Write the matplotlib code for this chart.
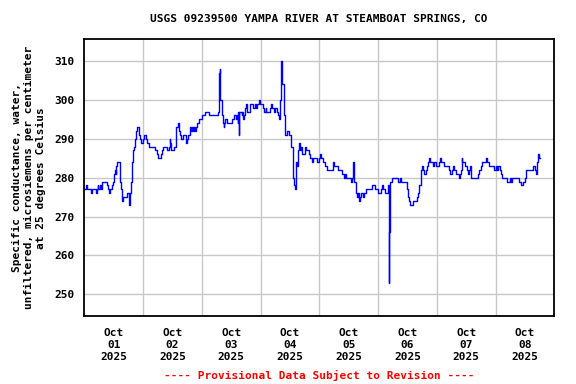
import matplotlib
matplotlib.use("Agg")
from matplotlib import pyplot as plt

# hours since Oct 01 2025 00:00, and specific conductance (uS/cm)
hours = [0.0, 0.7, 1.2, 2.7, 3.1, 4.6, 5.0, 5.4, 5.8, 6.4, 6.8, 7.2, 9.1, 9.6, 10.2, 10.7,
         11.3, 11.6, 12.0, 12.4, 12.8, 13.0, 13.5, 14.4, 14.8, 15.2, 15.6, 16.0, 17.3, 18.1,
         18.3, 18.6, 18.9, 19.3, 19.7, 20.2, 20.7, 21.1, 21.6, 22.2, 22.7, 23.0, 23.8, 24.2,
         25.4, 25.8, 26.4, 28.7, 29.5, 30.0, 31.3, 31.8, 32.2, 33.8, 34.5, 34.9, 35.2, 35.6,
         36.6, 37.5, 37.6, 38.2, 38.7, 39.1, 39.5, 40.5, 41.7, 42.1, 42.5, 43.1, 43.5, 43.9,
         44.4, 44.8, 45.3, 45.8, 46.2, 47.0, 48.0, 49.3, 51.0, 54.5, 54.9, 55.0, 55.4, 55.6,
         56.1, 56.5, 56.9, 57.2, 57.6, 58.4, 60.3, 61.2, 62.1, 62.5, 62.8, 62.9, 63.2, 63.3,
         64.3, 64.6, 64.8, 65.2, 65.6, 66.2, 66.6, 67.7, 68.9, 69.6, 70.0, 70.4, 71.2, 71.6,
         73.0, 73.3, 74.1, 74.3, 75.7, 76.2, 76.6, 77.3, 77.7, 78.7, 79.1, 79.5, 79.9, 80.2,
         80.5, 80.7, 81.4, 81.7, 82.1, 83.0, 83.8, 84.3, 84.5, 85.2, 85.6, 86.0, 86.3, 86.6,
         86.8, 87.2, 87.5, 87.8, 88.1, 88.5, 88.9, 90.0, 90.5, 91.7, 92.1, 92.7, 93.1, 93.6,
         95.1, 95.7, 96.4, 96.8, 97.4, 98.5, 99.1, 101.5, 102.1, 103.6, 105.3, 105.9, 106.4,
         107.0, 108.9, 109.3, 109.7, 110.3, 110.8, 111.3, 111.7, 112.1, 112.7, 113.2, 113.7,
         114.2, 115.1, 117.7, 118.9, 119.9, 121.2, 121.6, 122.2, 123.0, 123.9, 124.4, 124.6,
         124.8, 125.5, 128.3, 129.1, 129.5, 131.7, 132.1, 132.8, 133.2, 134.3, 135.9, 136.3,
         136.6, 137.6, 138.0, 138.5, 138.9, 139.6, 140.0, 140.4, 140.8, 141.1, 142.4, 143.0,
         143.6, 145.0, 145.3, 145.7, 146.8, 148.8, 149.3, 150.4, 150.8, 151.2, 151.8, 152.9,
         153.4, 153.8, 154.1, 154.4, 155.7, 156.3, 156.7, 157.1, 157.5, 157.8, 160.8, 161.3,
         162.0, 162.4, 164.0, 164.4, 165.4, 167.3, 168.1, 168.7, 169.2, 169.7, 170.3, 170.7,
         172.5, 174.0, 174.4, 174.6, 177.4, 178.3, 179.2, 180.1, 180.6, 183.2, 184.1, 184.5,
         184.8, 185.1, 185.3, 185.5, 185.7, 186.0]
values = [277, 278, 277, 276, 277, 276, 277, 278, 277, 278, 277, 279, 278, 277, 276, 277,
          278, 279, 281, 282, 281, 283, 284, 279, 277, 275, 274, 275, 276, 274,
          273, 276, 279, 284, 287, 288, 290, 292, 293, 291, 290, 289, 290, 291,
          290, 289, 288, 287, 286, 285, 286, 287, 288, 287, 288, 290, 289, 287,
          288, 290, 293, 294, 292, 291, 290, 291, 289, 290, 291, 293, 292, 293,
          292, 293, 292, 293, 294, 295, 296, 297, 296, 297, 300, 307, 308, 300,
          296, 294, 293, 294, 295, 294, 295, 296, 295, 296, 294, 297, 291, 297,
          296, 297, 295, 296, 298, 299, 297, 299, 298, 299, 298, 299, 300, 299,
          298, 297, 298, 297, 298, 299, 298, 297, 298, 297, 296, 295, 300, 306,
          310, 304, 300, 296, 291, 292, 291, 289, 288, 280, 278, 277, 280, 284,
          283, 285, 287, 289, 287, 288, 286, 288, 287, 286, 285, 285, 284, 285,
          284, 285, 286, 285, 284, 283, 282, 284, 283, 282, 281, 280, 281,
          280, 279, 280, 284, 279, 276, 275, 276, 274, 275, 276, 275,
          276, 277, 278, 277, 276, 277, 278, 277, 276, 278, 253, 266,
          279, 280, 279, 280, 279, 277, 275, 274, 273, 274, 275, 276,
          278, 282, 283, 282, 281, 282, 283, 284, 285, 284, 283, 284,
          283, 284, 285, 284, 283, 282, 281, 282, 283, 282, 281, 280,
          281, 282, 285, 284, 283, 282, 281, 282, 283, 280, 281, 282,
          283, 284, 285, 284, 283, 282, 283, 282, 283, 282, 281, 280,
          279, 280, 279, 280, 279, 278, 279, 280, 282, 283, 282, 281,
          283, 284, 285, 286, 285, 285]

day_labels = ["Oct\n01\n2025", "Oct\n02\n2025", "Oct\n03\n2025", "Oct\n04\n2025",
              "Oct\n05\n2025", "Oct\n06\n2025", "Oct\n07\n2025", "Oct\n08\n2025"]
y_ticks = [250, 260, 270, 280, 290, 300, 310]

plt.rcParams['font.family'] = 'DejaVu Sans Mono'
plt.rcParams['font.weight'] = 'bold'
plt.rcParams['font.size'] = 8

fig = plt.figure(figsize=(5.76, 3.84), dpi=100)
ax = fig.add_axes([84.3/576, 1-316/384, 470/576, 276.7/384])

ax.plot(hours, values, color='#0000ff', lw=1, drawstyle='steps-post')

ax.set_xlim(0, 192)
ax.set_ylim(244.4, 315.6)
ax.set_xticks([24*i for i in range(1, 8)])
ax.set_xticklabels([])
ax.set_xticks([12 + 24*i for i in range(8)], minor=True)
ax.set_xticklabels(day_labels, minor=True, fontweight='bold')
ax.set_yticks(y_ticks)
ax.set_yticklabels([str(v) for v in y_ticks], fontweight='bold')
ax.tick_params(which='both', length=0)
ax.tick_params(axis='x', which='minor', pad=9)
ax.tick_params(axis='y', pad=7)
ax.grid(True, which='major', color='#c8c8c8', lw=1)
ax.set_axisbelow(True)
for s in ax.spines.values():
    s.set_linewidth(1.3)

ax.set_ylabel("Specific conductance, water,\nunfiltered, microsiemens per centimeter\nat 25 degrees Celsius",
              fontweight='bold', linespacing=1.25)
ax.yaxis.set_label_coords(-38/470, 0.5)

fig.text(319/576, 1-19/384, "USGS 09239500 YAMPA RIVER AT STEAMBOAT SPRINGS, CO",
         ha='center', va='center', fontweight='bold')
fig.text(319/576, 1-375/384, "---- Provisional Data Subject to Revision ----",
         ha='center', va='center', color='red', fontweight='bold')

fig.savefig("out.png", dpi=100)
